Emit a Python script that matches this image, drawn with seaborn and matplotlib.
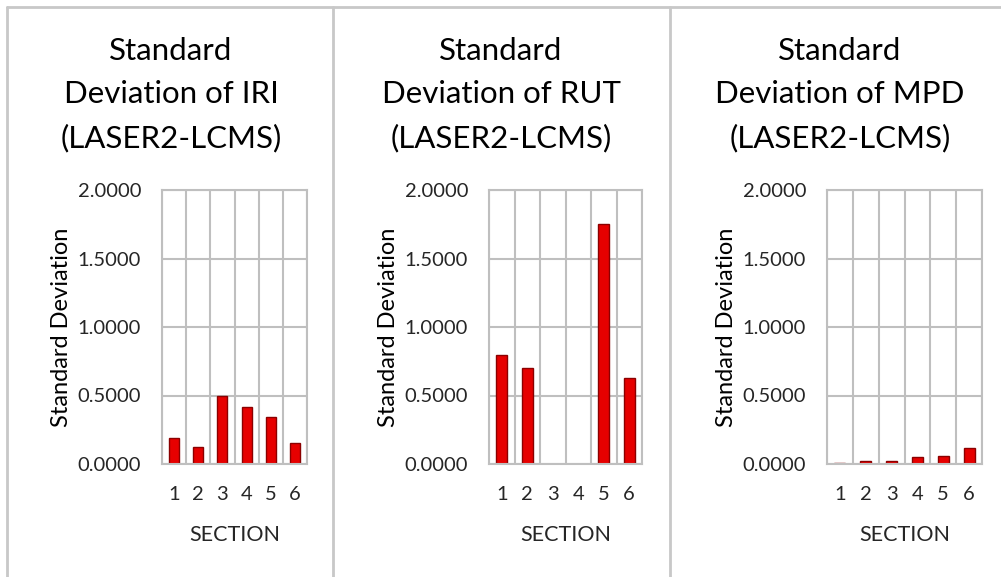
import numpy as np
import pandas as pd
import matplotlib
matplotlib.use('Agg')
import matplotlib.pyplot as plt
from matplotlib.lines import Line2D
import seaborn as sns

sns.set_style("white")
plt.rcParams['font.family'] = ['Lato', 'DejaVu Sans']

# Data
sections = ['1', '2', '3', '4', '5', '6']
std_iri = [0.190, 0.124, 0.496, 0.416, 0.343, 0.153]
std_rut = [0.796, 0.700, 0.0, 0.0, 1.750, 0.628]
std_mpd = [0.010, 0.020, 0.020, 0.050, 0.060, 0.115]
titles = ['Standard\nDeviation of IRI\n(LASER2-LCMS)',
          'Standard\nDeviation of RUT\n(LASER2-LCMS)',
          'Standard\nDeviation of MPD\n(LASER2-LCMS)']
y_ticks = [0.0, 0.5, 1.0, 1.5, 2.0]

W, H = 1001, 577
fig = plt.figure(figsize=(W / 100, H / 100), dpi=100)

# panel frames (pixel coords from the reference)
border = '#c8c8c8'
for x in [7, 333, 670]:
    fig.add_artist(Line2D([x / W, x / W], [0, 1 - 7 / H], color=border, lw=2, transform=fig.transFigure))
fig.add_artist(Line2D([7 / W, 1], [1 - 7 / H, 1 - 7 / H], color=border, lw=2, transform=fig.transFigure))

# axes positions in pixels: left, right
axes_px = [(162, 307), (489, 642), (827, 982)]
title_cx = [171, 501, 840]
top_px, bot_px = 190, 464

grid_c = '#bfbfbf'
txt_c = '#262626'
for (l, r), cx, title, vals in zip(axes_px, title_cx, titles, [std_iri, std_rut, std_mpd]):
    ax = fig.add_axes([l / W, 1 - bot_px / H, (r - l) / W, (bot_px - top_px) / H])
    df = pd.DataFrame({'SECTION': sections, 'Standard Deviation': vals})
    sns.barplot(data=df, x='SECTION', y='Standard Deviation', ax=ax, color='#e60000',
                width=0.42, edgecolor='#8b0000', linewidth=1.0, saturation=1)
    ax.set_xlim(-0.5, 5.5)
    ax.set_ylim(0, 2.0)
    ax.set_yticks(y_ticks)
    ax.set_yticklabels([f'{v:.4f}' for v in y_ticks])
    ax.set_xticks(np.arange(-0.5, 6, 1), minor=True)
    ax.grid(True, which='minor', axis='x', color=grid_c, lw=1.5)
    ax.grid(True, which='major', axis='y', color=grid_c, lw=1.5)
    ax.set_axisbelow(True)
    for s in ax.spines.values():
        s.set_color(grid_c)
        s.set_linewidth(1.5)
    ax.tick_params(which='both', length=0, labelsize=14.5, colors=txt_c)
    ax.tick_params(axis='x', pad=16)
    ax.tick_params(axis='y', pad=15)
    ax.set_xlabel('SECTION', fontsize=15.5, color=txt_c, labelpad=16)
    ax.set_ylabel('Standard Deviation', fontsize=17, color='#000000', labelpad=4)
    fig.text(cx / W, 1 - 37 / H, title, ha='center', va='top', fontsize=22.5, color='#000000',
             linespacing=1.66)

fig.savefig('out.png', dpi=100)
